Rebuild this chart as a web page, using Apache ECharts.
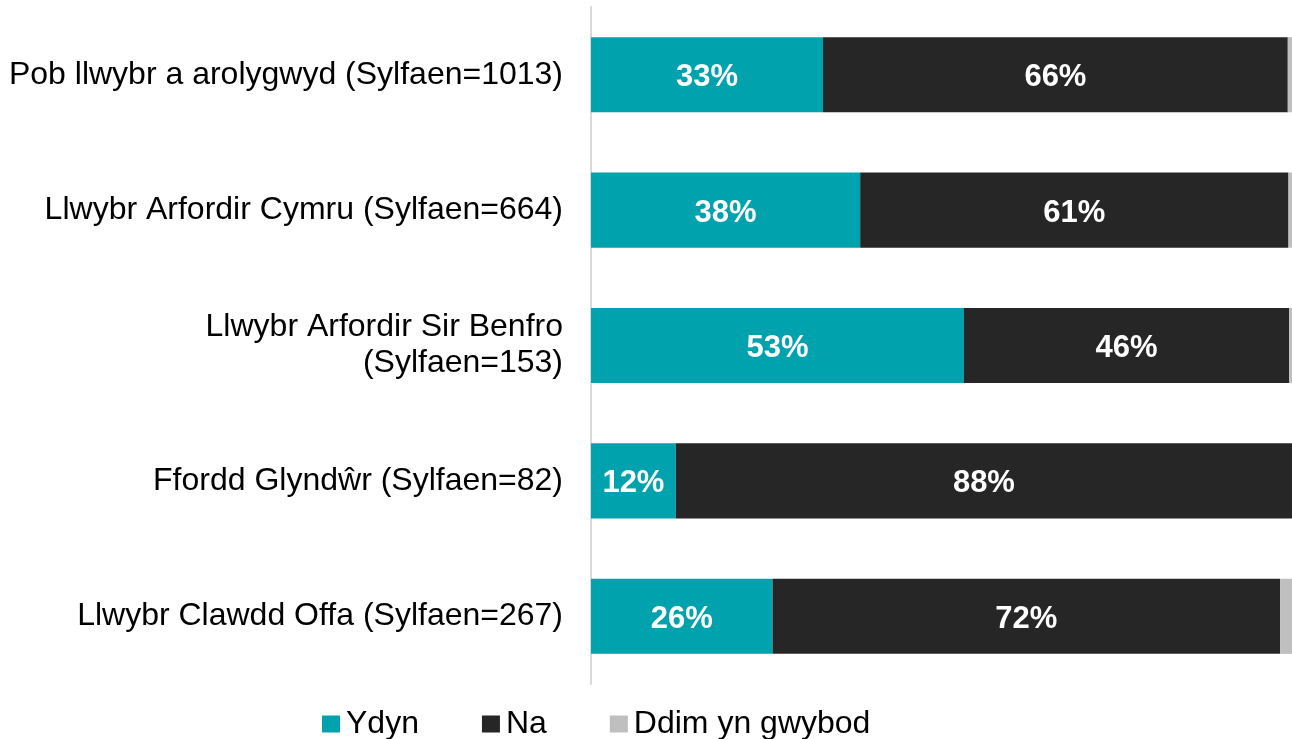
<!DOCTYPE html>
<html>
<head>
<meta charset="utf-8">
<script src="https://cdn.jsdelivr.net/npm/echarts@6/dist/echarts.min.js"></script>
<style>
  html, body { margin: 0; padding: 0; background: #fff; }
  #chart { width: 1292px; height: 739px; }
</style>
</head>
<body>
<div id="chart"></div>
<script>
// route categories, top to bottom
const categories = [
  'Pob llwybr a arolygwyd (Sylfaen=1013)',
  'Llwybr Arfordir Cymru (Sylfaen=664)',
  'Llwybr Arfordir Sir Benfro\n(Sylfaen=153)',
  'Ffordd Glyndŵr (Sylfaen=82)',
  'Llwybr Clawdd Offa (Sylfaen=267)'
];
const seriesNames = ['Ydyn', 'Na', 'Ddim yn gwybod'];
const ydyn = [33.1, 38.4, 53.2, 12.1, 25.9];
const na = [66.3, 61.1, 46.4, 87.9, 72.4];
const ddim = [0.6, 0.5, 0.4, 0, 1.7];

const colors = ['#00A3AD', '#262626', '#BFBFBF'];
const font = 'Arial, "Liberation Sans", sans-serif';

const chart = echarts.init(document.getElementById('chart'));

const makeSeries = (name, data, color, showLabel) => ({
  name: name,
  type: 'bar',
  stack: 'total',
  barCategoryGap: '44.5%',
  itemStyle: { color: color },
  label: {
    show: showLabel,
    position: 'inside',
    offset: [0, 3],
    color: '#fff',
    fontWeight: 'bold',
    fontSize: 31,
    fontFamily: font,
    formatter: p => p.value >= 5 ? Math.round(p.value) + '%' : ''
  },
  data: data
});

chart.setOption({
  animation: false,
  grid: { left: 591, right: 0, top: 7, bottom: 55, containLabel: false },
  legend: {
    data: seriesNames,
    left: 322,
    top: 708,
    padding: 0,
    icon: 'rect',
    itemWidth: 18,
    itemHeight: 17,
    itemGap: 63,
    textStyle: { fontSize: 32, fontFamily: font, color: '#000', padding: [0, 0, 0, 1] }
  },
  xAxis: {
    type: 'value',
    min: 0,
    max: 100,
    show: false
  },
  yAxis: {
    type: 'category',
    inverse: true,
    data: categories,
    axisLine: { show: true, lineStyle: { color: '#D9D9D9', width: 2 } },
    axisTick: { show: false },
    axisLabel: {
      margin: 28,
      fontSize: 32,
      fontFamily: font,
      color: '#000',
      align: 'right',
      lineHeight: 36
    }
  },
  series: [
    makeSeries(seriesNames[0], ydyn, colors[0], true),
    makeSeries(seriesNames[1], na, colors[1], true),
    makeSeries(seriesNames[2], ddim, colors[2], false)
  ]
});

window.addEventListener('resize', () => chart.resize());
</script>
</body>
</html>
